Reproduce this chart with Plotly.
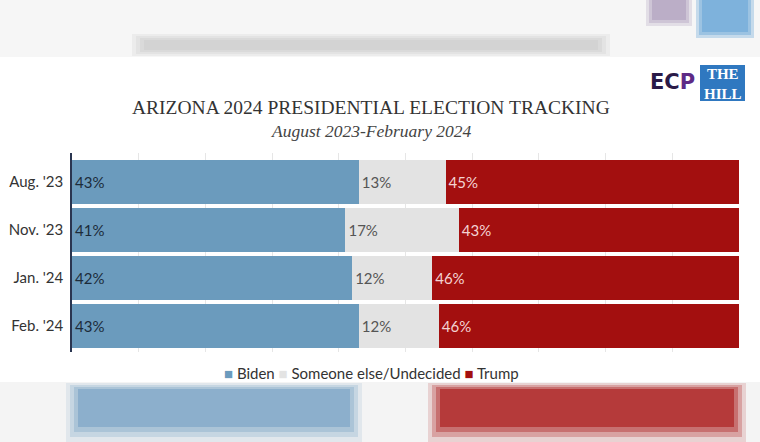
import plotly.graph_objects as go

periods = ["Aug. '23", "Nov. '23", "Jan. '24", "Feb. '24"]
biden = [43, 41, 42, 43]
undecided = [13, 17, 12, 12]
trump = [45, 43, 46, 46]

W, H = 760, 442
L, R, T, B = 72, 739, 153, 352


def px(x):
    return (x - L) / (R - L)


def py(y):
    return (B - y) / (B - T)


fig = go.Figure()
series = [
    ("Biden", biden, "#6b9bbd", "#1c2b3a"),
    ("Someone else/Undecided", undecided, "#e3e3e3", "#555555"),
    ("Trump", trump, "#a30f0f", "#f3d3d3"),
]
for name, vals, col, tcol in series:
    fig.add_trace(go.Bar(
        y=periods, x=vals, name=name, orientation="h",
        marker=dict(color=col, line=dict(width=0)),
        text=[f"{v}%" for v in vals], textposition="inside",
        insidetextanchor="start", textangle=0,
        textfont=dict(family="Lato", size=15, color=tcol),
        hoverinfo="skip", showlegend=False,
    ))

shapes = []
# top blurred band
shapes.append(dict(type="rect", xref="paper", yref="paper", x0=px(0), x1=px(W), y0=py(57), y1=py(0),
                   fillcolor="#f6f6f6", line=dict(width=0), layer="below"))
for i, op in enumerate([0.2, 0.25, 0.3, 0.4]):
    shapes.append(dict(type="rect", xref="paper", yref="paper", x0=px(132 + i * 4), x1=px(610 - i * 4),
                       y0=py(56 - i * 2), y1=py(34 + i * 2), fillcolor="#c8c8c8", opacity=op,
                       line=dict(width=0), layer="below"))
for i, op in enumerate([0.25, 0.35, 0.5]):
    shapes.append(dict(type="rect", xref="paper", yref="paper", x0=px(646 + i * 3), x1=px(692 - i * 3),
                       y0=py(26 - i * 3), y1=py(0), fillcolor="#a898b8", opacity=op,
                       line=dict(width=0), layer="below"))
    shapes.append(dict(type="rect", xref="paper", yref="paper", x0=px(696 + i * 3), x1=px(754 - i * 3),
                       y0=py(38 - i * 3), y1=py(0), fillcolor="#6aa6d8", opacity=op + 0.1,
                       line=dict(width=0), layer="below"))
# bottom blurred band
shapes.append(dict(type="rect", xref="paper", yref="paper", x0=px(0), x1=px(W), y0=py(H), y1=py(382),
                   fillcolor="#f4f4f4", line=dict(width=0), layer="above"))
for i, op in enumerate([0.15, 0.25, 0.35, 0.6]):
    shapes.append(dict(type="rect", xref="paper", yref="paper", x0=px(66 + i * 4), x1=px(362 - i * 4),
                       y0=py(442 - i * 5), y1=py(383 + i * 2), fillcolor="#78a2c4", opacity=op,
                       line=dict(width=0), layer="above"))
    shapes.append(dict(type="rect", xref="paper", yref="paper", x0=px(428 + i * 4), x1=px(746 - i * 4),
                       y0=py(442 - i * 5), y1=py(383 + i * 2), fillcolor="#a81515", opacity=op,
                       line=dict(width=0), layer="above"))
# The Hill logo box
shapes.append(dict(type="rect", xref="paper", yref="paper", x0=px(700), x1=px(745), y0=py(101), y1=py(65),
                   fillcolor="#2f78c0", line=dict(width=0)))

legend_text = ("<span style='color:#6b9bbd'>■</span> Biden "
               "<span style='color:#e3e3e3'>■</span> Someone else/Undecided "
               "<span style='color:#a30f0f'>■</span> Trump")

annotations = [
    dict(text="ARIZONA 2024 PRESIDENTIAL ELECTION TRACKING", xref="paper", yref="paper",
         x=px(371), y=py(107), xanchor="center", yanchor="middle", showarrow=False,
         font=dict(family="Liberation Serif", size=19.5, color="#333333")),
    dict(text="<i>August 2023-February 2024</i>", xref="paper", yref="paper",
         x=px(371), y=py(131), xanchor="center", yanchor="middle", showarrow=False,
         font=dict(family="Liberation Serif", size=17.5, color="#444444")),
    dict(text="<b>EC<span style='color:#5e2a86'>P</span></b>", xref="paper", yref="paper",
         x=px(672), y=py(82), xanchor="center",
         yanchor="middle", showarrow=False,
         font=dict(family="DejaVu Sans", size=21, color="#2a1a48")),
    dict(text="<b>THE<br>HILL</b>", xref="paper", yref="paper", x=px(722.5), y=py(84), xanchor="center",
         yanchor="middle", showarrow=False, align="center",
         font=dict(family="Liberation Serif", size=15, color="white")),
    dict(text=legend_text, xref="paper", yref="paper", x=px(371), y=py(373),
         xanchor="center", yanchor="middle", showarrow=False,
         font=dict(family="Lato", size=15, color="#333333")),
]

fig.update_layout(
    width=W, height=H,
    margin=dict(l=L, r=W - R, t=T, b=H - B, pad=0, autoexpand=False),
    barmode="stack", bargap=0.08,
    paper_bgcolor="white", plot_bgcolor="white",
    showlegend=False,
    xaxis=dict(range=[0, 100], dtick=10, showgrid=True, gridcolor="#e6e6e6", gridwidth=1,
               showticklabels=False, zeroline=False, showline=False, fixedrange=True,
               automargin=False),
    yaxis=dict(categoryorder="array", categoryarray=periods, range=[3.54, -0.6],
               showline=True, linecolor="#2a3550", linewidth=1.5, ticks="",
               tickfont=dict(family="Lato", size=15, color="#333333"), ticklabelstandoff=4,
               showgrid=False, zeroline=False, automargin=False),
    shapes=shapes, annotations=annotations,
    font=dict(family="Lato"),
)

fig.write_html("out.html")
